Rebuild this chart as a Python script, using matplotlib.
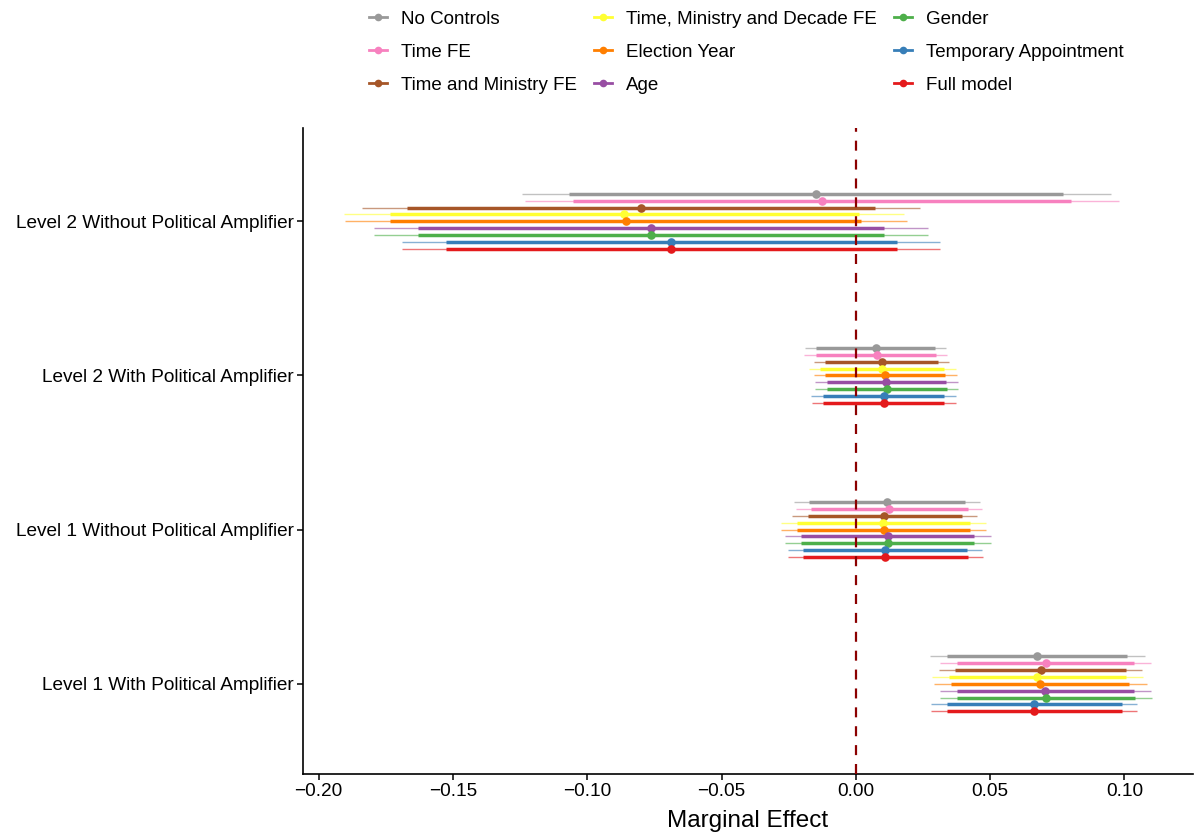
import matplotlib
matplotlib.use("Agg")
import matplotlib.pyplot as plt
from matplotlib.lines import Line2D
import numpy as np

plt.rcParams['font.family'] = ['Liberation Sans', 'DejaVu Sans']

# coefficient estimates with 90% (inner) and 95% (outer) intervals
groups = ['Level 1 With Political Amplifier', 'Level 1 Without Political Amplifier',
          'Level 2 With Political Amplifier', 'Level 2 Without Political Amplifier']
models = ['No Controls', 'Time FE', 'Time and Ministry FE',
          'Time, Ministry and Decade FE', 'Election Year', 'Age',
          'Gender', 'Temporary Appointment', 'Full model']
colors = ['#999999', '#F781BF', '#A65628', '#FFFF33', '#FF7F00',
          '#984EA3', '#4DAF4A', '#377EB8', '#E41A1C']

# rows: model, columns: group (same order as `groups`)
estimate = np.array([
    [0.0676, 0.0115, 0.0074, -0.0150],
    [0.0706, 0.0124, 0.0077, -0.0125],
    [0.0689, 0.0105, 0.0097, -0.0800],
    [0.0676, 0.0102, 0.0097, -0.0862],
    [0.0686, 0.0103, 0.0109, -0.0856],
    [0.0705, 0.0118, 0.0114, -0.0763],
    [0.0709, 0.0119, 0.0115, -0.0763],
    [0.0664, 0.0108, 0.0103, -0.0688],
    [0.0664, 0.0109, 0.0103, -0.0688],
])
lo90 = np.array([
    [0.0341, -0.0174, -0.0149, -0.1068],
    [0.0376, -0.0167, -0.0149, -0.1053],
    [0.0370, -0.0180, -0.0114, -0.1671],
    [0.0345, -0.0220, -0.0133, -0.1736],
    [0.0354, -0.0220, -0.0114, -0.1733],
    [0.0376, -0.0205, -0.0109, -0.1629],
    [0.0378, -0.0203, -0.0109, -0.1629],
    [0.0341, -0.0196, -0.0122, -0.1527],
    [0.0341, -0.0196, -0.0122, -0.1527],
])
hi90 = np.array([
    [0.1011, 0.0406, 0.0295, 0.0772],
    [0.1036, 0.0416, 0.0300, 0.0800],
    [0.1005, 0.0394, 0.0304, 0.0071],
    [0.1007, 0.0425, 0.0329, 0.0012],
    [0.1017, 0.0425, 0.0332, 0.0021],
    [0.1034, 0.0440, 0.0337, 0.0105],
    [0.1040, 0.0440, 0.0341, 0.0103],
    [0.0989, 0.0413, 0.0329, 0.0153],
    [0.0989, 0.0416, 0.0329, 0.0153],
])
lo95 = np.array([
    [0.0277, -0.0232, -0.0190, -0.1244],
    [0.0313, -0.0223, -0.0192, -0.1231],
    [0.0310, -0.0236, -0.0155, -0.1838],
    [0.0283, -0.0279, -0.0176, -0.1904],
    [0.0292, -0.0279, -0.0155, -0.1901],
    [0.0313, -0.0264, -0.0153, -0.1795],
    [0.0314, -0.0264, -0.0153, -0.1795],
    [0.0279, -0.0254, -0.0167, -0.1688],
    [0.0279, -0.0254, -0.0165, -0.1688],
])
hi95 = np.array([
    [0.1077, 0.0463, 0.0337, 0.0949],
    [0.1100, 0.0471, 0.0341, 0.0979],
    [0.1067, 0.0450, 0.0347, 0.0237],
    [0.1069, 0.0486, 0.0372, 0.0180],
    [0.1082, 0.0486, 0.0375, 0.0190],
    [0.1098, 0.0502, 0.0382, 0.0270],
    [0.1104, 0.0502, 0.0382, 0.0270],
    [0.1048, 0.0471, 0.0372, 0.0315],
    [0.1048, 0.0475, 0.0372, 0.0315],
])

fig = plt.figure(figsize=(11.96, 8.34), dpi=100)
ax = fig.add_axes([303 / 1196, 60 / 834, 890 / 1196, 646 / 834])

n = len(models)
dodge = 0.4 / n
ypos = np.arange(1, len(groups) + 1)

for i, (m, c) in enumerate(zip(models, colors)):
    y = ypos + (n // 2 - i) * dodge
    ax.hlines(y, lo95[i], hi95[i], color=c, lw=1.0, alpha=0.6, zorder=2)
    ax.hlines(y, lo90[i], hi90[i], color=c, lw=2.5, zorder=3)
    ax.plot(estimate[i], y, 'o', color=c, ms=6.2, mec='none', zorder=4)

ax.axvline(0, color='#8B0000', lw=1.6, dashes=(4.5, 4.0), zorder=5)

ax.set_xlim(-0.2058, 0.1255)
ax.set_ylim(0.415, 4.605)
ax.set_xticks([-0.20, -0.15, -0.10, -0.05, 0.00, 0.05, 0.10])
ax.set_xticklabels(['\u22120.20', '\u22120.15', '\u22120.10', '\u22120.05',
                    '0.00', '0.05', '0.10'])
ax.set_yticks(ypos)
ax.set_yticklabels(groups)
ax.tick_params(labelsize=13.7, length=4, width=1.1, colors='black', pad=2.5)
ax.set_xlabel('Marginal Effect', fontsize=17.5, labelpad=7)

for s in ['top', 'right']:
    ax.spines[s].set_visible(False)
for s in ['left', 'bottom']:
    ax.spines[s].set_linewidth(1.2)

handles = [Line2D([0], [0], color=c, lw=2.0, marker='o', ms=5.5, mec='none')
           for c in colors]
fig.legend(handles, models, ncol=3, loc='upper center',
           bbox_to_anchor=(0.624, 1.003), frameon=False, fontsize=13.5,
           handlelength=0.95, handletextpad=0.75, columnspacing=0.9,
           labelspacing=0.85, borderaxespad=0.3)

fig.savefig('out.png', dpi=100)
